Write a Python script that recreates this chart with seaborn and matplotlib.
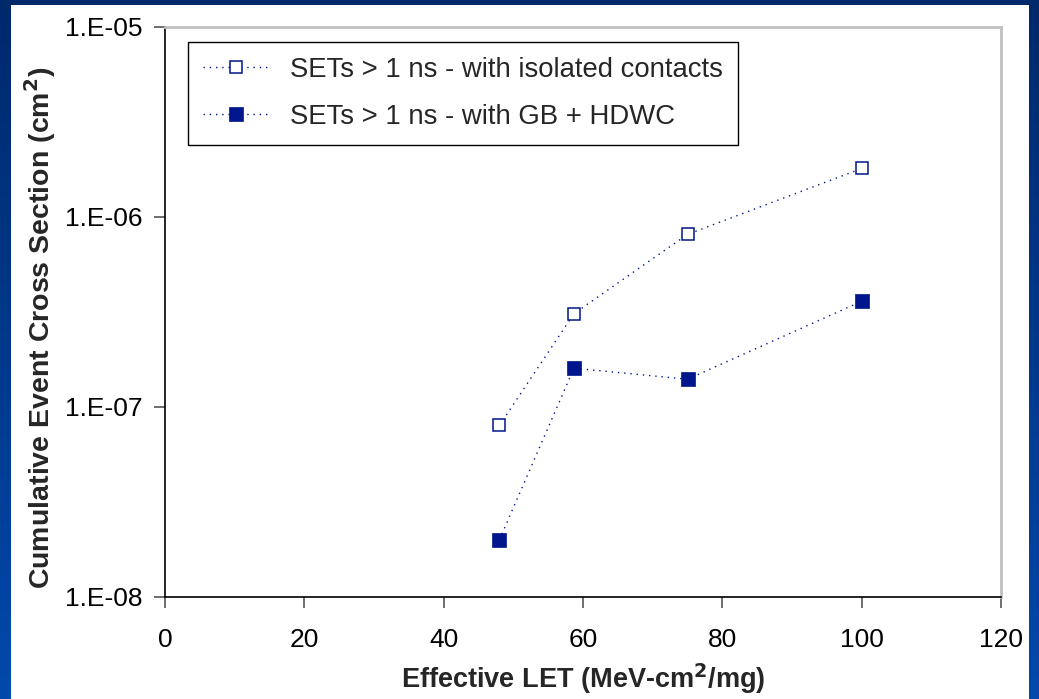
import numpy as np
import pandas as pd
import matplotlib
matplotlib.use("Agg")
import matplotlib.pyplot as plt
from matplotlib.patches import Rectangle
from matplotlib.ticker import FixedLocator, FuncFormatter
import seaborn as sns

# Effective LET values (MeV-cm^2/mg)
let_values = [48, 58.7, 75, 100]
# Cumulative event cross sections (cm^2)
isolated_contacts = [8.0e-8, 3.1e-7, 8.1e-7, 1.8e-6]
gb_hdwc = [2.0e-8, 1.6e-7, 1.4e-7, 3.6e-7]
series_names = ["SETs > 1 ns - with isolated contacts", "SETs > 1 ns - with GB + HDWC"]
y_ticks = [1e-8, 1e-7, 1e-6, 1e-5]
x_ticks = [0, 20, 40, 60, 80, 100, 120]

df = pd.DataFrame({
    "LET": let_values * 2,
    "sigma": isolated_contacts + gb_hdwc,
    "series": [series_names[0]] * len(let_values) + [series_names[1]] * len(let_values),
})

sns.set_theme(style="white")
plt.rcParams["font.family"] = ["Liberation Sans", "DejaVu Sans"]

W, H = 1039, 699
fig = plt.figure(figsize=(W / 100, H / 100), dpi=100)

# slide background: vertical blue gradient with a white panel on top
bg = fig.add_axes([0, 0, 1, 1], zorder=-10)
grad = np.linspace(0, 1, 256).reshape(-1, 1)
top = np.array([0x00, 0x29, 0x6c]) / 255
bot = np.array([0x00, 0x49, 0xab]) / 255
img = top + (bot - top) * grad[..., None]
bg.imshow(img, aspect="auto", extent=[0, 1, 0, 1], origin="upper")
bg.add_patch(Rectangle((11 / W, 0), (1029 - 11) / W, 1 - 5 / H,
                       transform=bg.transAxes, facecolor="white", edgecolor="none"))
bg.set_axis_off()

ax = fig.add_axes([165 / W, 1 - 597 / H, (1001 - 165) / W, (597 - 27) / H])
ax.set_facecolor("white")

navy = "#00168c"
dots = (0, (1, 3.5))
sub_a = df[df.series == series_names[0]]
sub_b = df[df.series == series_names[1]]
sns.lineplot(data=sub_a, x="LET", y="sigma", ax=ax, color=navy, linestyle=dots, linewidth=1.0,
             marker="s", markersize=8.5, markerfacecolor="white", markeredgecolor=navy,
             markeredgewidth=1.1, label=series_names[0])
sns.lineplot(data=sub_b, x="LET", y="sigma", ax=ax, color=navy, linestyle=dots, linewidth=1.0,
             marker="s", markersize=10, markerfacecolor=navy, markeredgecolor=navy,
             markeredgewidth=0.5, label=series_names[1])

ax.set_yscale("log")
ax.set_xlim(0, 120)
ax.set_ylim(1e-8, 1e-5)
ax.yaxis.set_major_locator(FixedLocator(y_ticks))
ax.yaxis.set_minor_locator(FixedLocator([]))
ax.yaxis.set_major_formatter(FuncFormatter(lambda v, p: "1.E-%02d" % round(-np.log10(v))))
ax.set_xticks(x_ticks)

for side in ["left", "bottom"]:
    ax.spines[side].set_color("black")
    ax.spines[side].set_linewidth(1.2)
for side in ["top", "right"]:
    ax.spines[side].set_color("#c0c0c0")
    ax.spines[side].set_linewidth(2)

ax.tick_params(axis="both", which="major", direction="out", length=8, width=1.2,
               color="#555555", labelsize=19, labelcolor="black", left=True, bottom=True)
ax.tick_params(axis="y", pad=8)
ax.tick_params(axis="x", pad=14)

ax.set_xlabel("Effective LET (MeV-cm$^\\mathbf{2}$/mg)", fontsize=19.5, fontweight="bold", labelpad=7)
ax.set_ylabel("Cumulative Event Cross Section (cm$^\\mathbf{2}$)", fontsize=20.5, fontweight="bold")
ax.yaxis.set_label_coords(-0.128, 0.473)

leg = ax.legend(loc="upper left", bbox_to_anchor=(0.0275, 0.974), fontsize=19.8,
                frameon=True, fancybox=False, edgecolor="black", framealpha=1,
                handlelength=2.4, handletextpad=0.75, borderpad=0.55, labelspacing=0.75,
                borderaxespad=0)
leg.get_frame().set_linewidth(1.0)

fig.savefig("out.png", dpi=100)
